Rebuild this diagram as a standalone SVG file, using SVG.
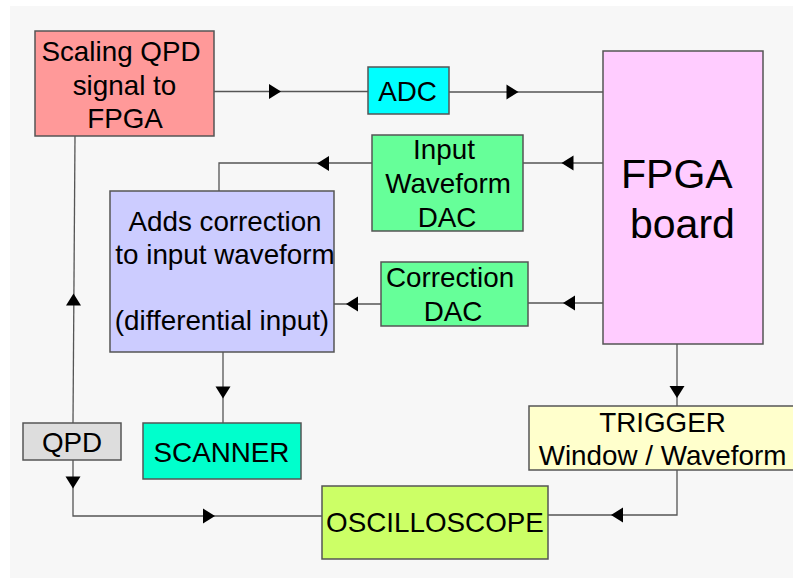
<svg xmlns="http://www.w3.org/2000/svg" width="793" height="579" viewBox="0 0 793 579">
  <style>
    .box { stroke: #555; stroke-width: 1.5; }
    .wire { fill: none; stroke: #555; stroke-width: 1.3; }
    .lbl { font-family: "Liberation Sans", Arial, sans-serif; font-size: 27.8px; fill: #000; text-anchor: middle; }
    .big { font-size: 41px; text-anchor: start; }
  </style>
  <defs>
    <path id="ah" d="M-6,-7.5 L6,0 L-6,7.5 Z" fill="#000"/>
  </defs>

  <rect x="0" y="0" width="793" height="579" fill="#fff"/>
  <rect x="10" y="6" width="783" height="572" fill="#f7f7f7"/>

  <g id="connectors">
    <path class="wire" d="M214,91.5 H368"/>
    <path class="wire" d="M449,92 H603"/>
    <path class="wire" d="M603,163 H523"/>
    <path class="wire" d="M372,163 H219 V191"/>
    <path class="wire" d="M603,303 H528"/>
    <path class="wire" d="M381,304 H334"/>
    <path class="wire" d="M223,352 V423"/>
    <path class="wire" d="M75,136 L73,423"/>
    <path class="wire" d="M73,460 V516 H322"/>
    <path class="wire" d="M677,344 V406"/>
    <path class="wire" d="M677,470 V515 H548"/>
    <use href="#ah" transform="translate(275,91.5)"/>
    <use href="#ah" transform="translate(512.5,92)"/>
    <use href="#ah" transform="translate(567.5,163) rotate(180)"/>
    <use href="#ah" transform="translate(323,163.5) rotate(180)"/>
    <use href="#ah" transform="translate(569,303) rotate(180)"/>
    <use href="#ah" transform="translate(352,304) rotate(180)"/>
    <use href="#ah" transform="translate(223,392.5) rotate(90)"/>
    <use href="#ah" transform="translate(73.5,299.5) rotate(-90)"/>
    <use href="#ah" transform="translate(73,482.5) rotate(90)"/>
    <use href="#ah" transform="translate(209,516)"/>
    <use href="#ah" transform="translate(677,392) rotate(90)"/>
    <use href="#ah" transform="translate(617,515) rotate(180)"/>
  </g>

  <g id="scaling">
    <rect class="box" x="35" y="31" width="179" height="105" fill="#ff9999"/>
    <text class="lbl" x="121" y="61">Scaling QPD</text>
    <text class="lbl" x="124.5" y="94.5">signal to</text>
    <text class="lbl" x="125" y="128">FPGA</text>
  </g>

  <g id="adc">
    <rect class="box" x="368" y="67" width="81" height="47" fill="#00ffff"/>
    <text class="lbl" x="407.5" y="101">ADC</text>
  </g>

  <g id="fpga">
    <rect class="box" x="603" y="51" width="160" height="293" fill="#ffccff"/>
    <text class="lbl big" x="621" y="188">FPGA</text>
    <text class="lbl big" x="630" y="238">board</text>
  </g>

  <g id="input-dac">
    <rect class="box" x="372" y="135" width="151" height="96" fill="#66ff99"/>
    <text class="lbl" x="444" y="159">Input</text>
    <text class="lbl" x="448" y="193">Waveform</text>
    <text class="lbl" x="447" y="227">DAC</text>
  </g>

  <g id="correction-dac">
    <rect class="box" x="381" y="262" width="147" height="64" fill="#66ff99"/>
    <text class="lbl" x="450" y="287">Correction</text>
    <text class="lbl" x="453" y="321">DAC</text>
  </g>

  <g id="adder">
    <rect class="box" x="110" y="191" width="224" height="161" fill="#ccccff"/>
    <text class="lbl" x="225" y="231">Adds correction</text>
    <text class="lbl" x="225" y="263.5">to input waveform</text>
    <text class="lbl" x="222" y="330">(differential input)</text>
  </g>

  <g id="qpd">
    <rect class="box" x="23" y="423" width="98" height="37" fill="#dddddd"/>
    <text class="lbl" x="72" y="452">QPD</text>
  </g>

  <g id="scanner">
    <rect class="box" x="143" y="423" width="158" height="56" fill="#00ffcc"/>
    <text class="lbl" x="221.5" y="462">SCANNER</text>
  </g>

  <g id="trigger">
    <rect class="box" x="529" y="406" width="270" height="64" fill="#ffffcc"/>
    <text class="lbl" x="662.5" y="432">TRIGGER</text>
    <text class="lbl" x="662.5" y="465">Window / Waveform</text>
  </g>

  <g id="oscilloscope">
    <rect class="box" x="322" y="486" width="226" height="73" fill="#ccff66"/>
    <text class="lbl" x="435" y="532">OSCILLOSCOPE</text>
  </g>
</svg>
